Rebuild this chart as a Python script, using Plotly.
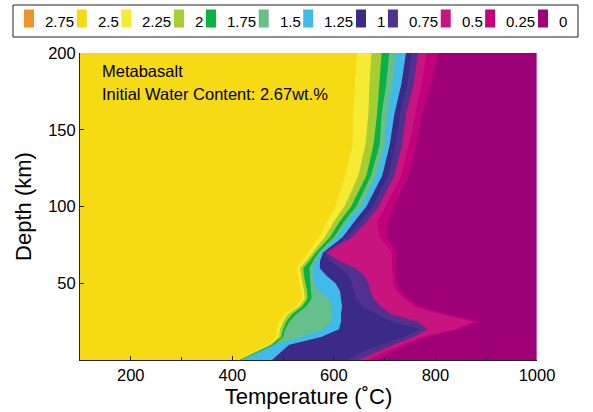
import plotly.graph_objects as go

# ---------------- data ----------------
T_MIN, T_MAX = 100, 1000
D_MIN, D_MAX = 0, 200

depth = [0, 5, 10, 15, 20, 25, 30, 35, 40, 45, 50, 55, 60, 65, 70, 80, 90, 100, 120, 140, 160, 180, 200]

# temperature (C) of the boundary where water content drops below each level, per depth
t_225 = [411, 440, 470, 487, 487, 492, 503, 525, 538, 536, 533, 530, 527, 539, 549, 571, 586, 603, 622, 637, 638, 641, 646]
t_200 = [413, 443, 474, 492, 494, 500, 510, 532, 543, 541, 538, 535, 533, 547, 558, 582, 600, 621, 648, 662, 668, 670, 674]
t_175 = [415, 446, 478, 496, 500, 506, 518, 538, 548, 547, 544, 541, 540, 553, 564, 592, 611, 634, 664, 678, 685, 690, 694]
t_150 = [418, 452, 483, 500, 504, 512, 526, 546, 556, 555, 554, 553, 552, 560, 570, 600, 620, 644, 673, 690, 694, 703, 709]
t_125 = [418, 452, 483, 535, 580, 594, 596, 595, 590, 570, 561, 560, 558, 565, 574, 605, 627, 653, 683, 700, 705, 715, 723]
t_100 = [478, 495, 512, 575, 610, 614, 614, 616, 614, 612, 603, 585, 572, 573, 579, 617, 640, 664, 695, 710, 719, 733, 742]
t_075 = [625, 655, 690, 738, 770, 715, 684, 656, 643, 640, 635, 628, 612, 590, 582, 626, 652, 676, 707, 721, 730, 745, 753]
t_050 = [648, 682, 718, 757, 785, 765, 712, 692, 678, 672, 668, 660, 641, 608, 585, 636, 665, 688, 719, 734, 742, 757, 766]
t_025 = [667, 698, 734, 772, 838, 876, 808, 758, 738, 724, 716, 716, 714, 714, 714, 690, 685, 702, 733, 748, 760, 773, 783]
t_000 = [685, 712, 745, 784, 848, 888, 822, 769, 746, 733, 723, 722, 720, 723, 723, 705, 705, 718, 747, 762, 774, 792, 806]

levels = ["2.75", "2.5", "2.25", "2", "1.75", "1.5", "1.25", "1", "0.75", "0.5", "0.25", "0"]
colors = ["#F0922E", "#F5DA14", "#F5EB33", "#A4CE33", "#0CB144", "#67C08A", "#40B9EB",
          "#3B2A88", "#51308F", "#C8147F", "#C2007C", "#9E0078"]

title_lines = ["Metabasalt", "Initial Water Content: 2.67wt.%"]

# ---------------- figure ----------------
W, H = 593, 412
ML, MR, MT, MB = 80, 56, 53, 52
PW, PH = W - ML - MR, H - MT - MB


def fx(px):
    return (px - ML) / PW


def fy(py):
    return (H - MB - py) / PH


fig = go.Figure()

# region boundaries, from left edge; each filled region extends to the right edge
bounds = [[T_MIN] * len(depth), t_225, t_200, t_175, t_150, t_125, t_100, t_075, t_050, t_025, t_000]
for b, col in zip(bounds, colors[1:]):
    fig.add_trace(go.Scatter(
        x=list(b) + [T_MAX, T_MAX],
        y=list(depth) + [D_MAX, D_MIN],
        fill="toself", fillcolor=col, mode="lines",
        line=dict(width=0, color=col), hoverinfo="skip", showlegend=False,
    ))

# ---------------- manual legend ----------------
FONT = "Liberation Sans, Arial, Helvetica, sans-serif"
shapes = [dict(type="rect", xref="paper", yref="paper",
               x0=fx(13), x1=fx(578), y0=fy(37), y1=fy(5),
               line=dict(color="#222222", width=1), fillcolor="white", layer="above"),
          dict(type="line", xref="paper", yref="paper", x0=1, x1=1, y0=0, y1=1,
               line=dict(color="#D8C8D8", width=1), layer="above")]
annotations = []


def text_w(s, size=15):
    w = 0
    for ch in s:
        w += 0.278 if ch == "." else 0.556
    return w * size


xpos = 24
for lab, col in zip(levels, colors):
    shapes.append(dict(type="rect", xref="paper", yref="paper",
                       x0=fx(xpos), x1=fx(xpos + 10), y0=fy(27.5), y1=fy(9.5),
                       line=dict(width=0), fillcolor=col, layer="above"))
    annotations.append(dict(xref="paper", yref="paper", x=fx(xpos + 19), y=fy(22),
                            text=lab, showarrow=False, xanchor="left", yanchor="middle",
                            font=dict(family=FONT, size=15, color="black")))
    xpos += 21 + text_w(lab) + 2.6

annotations.append(dict(xref="paper", yref="paper", x=fx(100), y=fy(71), text=title_lines[0],
                        showarrow=False, xanchor="left", yanchor="middle",
                        font=dict(family=FONT, size=16.5, color="black")))
annotations.append(dict(xref="paper", yref="paper", x=fx(100), y=fy(94), text=title_lines[1],
                        showarrow=False, xanchor="left", yanchor="middle",
                        font=dict(family=FONT, size=16.5, color="black")))

fig.update_layout(
    width=W, height=H,
    margin=dict(l=ML, r=MR, t=MT, b=MB, pad=0, autoexpand=False),
    paper_bgcolor="white", plot_bgcolor="white",
    font=dict(family=FONT, size=16.5, color="black"),
    showlegend=False,
    shapes=shapes, annotations=annotations,
    xaxis=dict(range=[T_MIN, T_MAX], showgrid=False, zeroline=False, automargin=False,
               showline=True, linecolor="#222222", linewidth=1,
               ticks="inside", ticklen=4, tickcolor="#222222",
               tickvals=[200, 400, 600, 800, 1000],
               minor=dict(ticks="inside", ticklen=3, dtick=100, tick0=0, tickcolor="#222222"),
               tickfont=dict(size=16.5),
               title=dict(text="Temperature (˚C)", font=dict(size=22), standoff=4)),
    yaxis=dict(range=[D_MIN, D_MAX], showgrid=False, zeroline=False, automargin=False,
               showline=True, linecolor="#222222", linewidth=1,
               ticks="inside", ticklen=4, tickcolor="#222222",
               tickvals=[50, 100, 150, 200],
               tickfont=dict(size=16.5),
               title=dict(text="Depth (km)", font=dict(size=22), standoff=10)),
)

fig.write_html("out.html", config={"displayModeBar": False},
               post_script="document.body.style.margin='0';")
